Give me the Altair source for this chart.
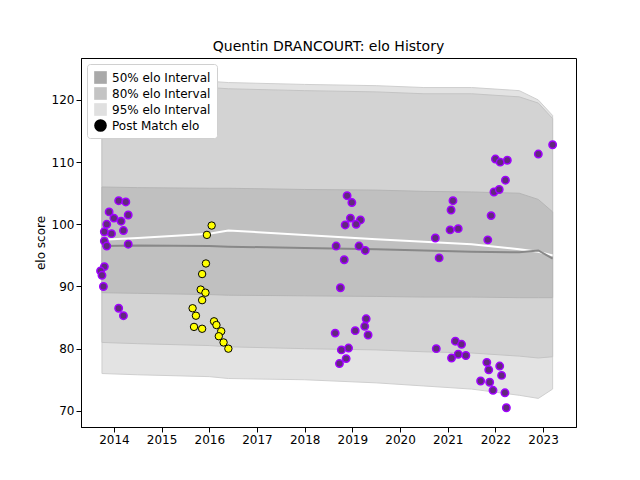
import altair as alt
import pandas as pd

# band edges over time (year, lower, upper)
band_x = [2013.75, 2014.5, 2016.0, 2016.4, 2018.0, 2019.5, 2020.5, 2021.5, 2022.5, 2022.9, 2023.2]
b95_lo = [76.0, 75.8, 75.5, 75.2, 75.0, 74.5, 74.0, 73.5, 72.5, 72.0, 73.5]
b95_hi = [123.5, 123.3, 123.0, 122.8, 122.5, 122.3, 122.0, 122.0, 121.5, 120.0, 117.5]
b80_lo = [81.0, 80.8, 80.5, 80.3, 80.0, 79.8, 79.5, 79.3, 78.8, 78.5, 78.7]
b80_hi = [122.5, 122.3, 122.0, 121.8, 121.5, 121.3, 121.0, 121.0, 120.5, 119.5, 117.0]
b50_lo = [89.0, 88.9, 88.7, 88.6, 88.5, 88.4, 88.3, 88.3, 88.2, 88.2, 88.2]
b50_hi = [106.0, 105.9, 105.8, 105.8, 105.6, 105.5, 105.3, 105.2, 105.0, 104.0, 102.0]
mean_line = [97.5, 97.8, 98.5, 99.0, 98.3, 97.6, 97.2, 96.8, 96.0, 95.6, 95.0]
median_line = [96.5, 96.6, 96.5, 96.4, 96.2, 96.0, 95.8, 95.6, 95.5, 95.8, 94.5]

yellow_x = [2016.05, 2015.95, 2015.93, 2015.85, 2015.82, 2015.92, 2015.85, 2015.65, 2015.72,
            2016.1, 2015.68, 2015.85, 2016.15, 2016.25, 2016.2, 2016.3, 2016.4]
yellow_y = [99.8, 98.3, 93.7, 92.0, 89.5, 89.0, 87.8, 86.5, 85.3,
            84.4, 83.5, 83.2, 83.8, 82.8, 82.0, 81.0, 80.0]

purple_x = [2014.1, 2014.25, 2013.9, 2014.3, 2014.0, 2014.15, 2013.85, 2014.2, 2013.8, 2013.95,
            2013.8, 2014.3, 2013.85, 2013.8, 2013.72, 2013.75, 2013.78, 2014.1, 2014.2,
            2018.89, 2018.99, 2018.96, 2019.17, 2018.85, 2019.08, 2018.66, 2019.14, 2019.27, 2018.83,
            2018.75, 2019.29, 2019.26, 2019.33, 2019.06, 2018.64, 2018.92, 2018.77, 2018.87, 2018.73,
            2021.11, 2021.07, 2021.05, 2021.22, 2020.74, 2020.82, 2020.76, 2021.16, 2021.29, 2021.22,
            2021.08, 2021.38,
            2022.21, 2021.97, 2022.08, 2021.91, 2021.84, 2021.82, 2021.86, 2022.09, 2022.13, 2021.69,
            2021.88, 2021.95, 2022.2, 2022.23, 2022.0, 2022.1, 2022.25, 2022.9, 2023.2]
purple_y = [103.8, 103.6, 102.0, 101.5, 101.0, 100.5, 100.0, 99.0, 98.8, 98.5,
            97.3, 96.8, 96.5, 93.2, 92.5, 91.8, 90.0, 86.5, 85.3,
            104.6, 103.5, 101.0, 100.7, 99.9, 100.0, 96.5, 96.5, 95.8, 94.3,
            89.8, 84.8, 83.6, 82.2, 82.9, 82.5, 80.1, 79.8, 78.4, 77.6,
            103.8, 102.3, 99.1, 99.3, 97.8, 94.6, 80.0, 81.2, 80.7, 79.1,
            78.5, 78.9,
            107.1, 105.2, 105.6, 101.4, 97.5, 77.8, 76.6, 77.2, 75.7, 74.8,
            74.6, 73.3, 72.9, 70.5, 110.5, 110.0, 110.3, 111.3, 112.8]

legend_labels = ["50% elo Interval", "80% elo Interval", "95% elo Interval", "Post Match elo"]

bands = pd.DataFrame({"x": band_x, "lo95": b95_lo, "hi95": b95_hi, "lo80": b80_lo, "hi80": b80_hi,
                      "lo50": b50_lo, "hi50": b50_hi, "mean": mean_line, "median": median_line})
yellow = pd.DataFrame({"x": yellow_x, "y": yellow_y})
purple = pd.DataFrame({"x": purple_x, "y": purple_y})
leg = pd.DataFrame({"x": [2014.0] * 4, "y": [100.0] * 4, "label": legend_labels})

xs = alt.Scale(domain=[2013.31, 2023.69], nice=False, zero=False)
ys = alt.Scale(domain=[67.4, 126.75], nice=False, zero=False)
xax = alt.Axis(values=list(range(2014, 2024)), format="d", grid=False, title=None)
yax = alt.Axis(values=[70, 80, 90, 100, 110, 120], grid=False, title="elo score")

base = alt.Chart(bands)
a95 = base.mark_area(color="#e3e3e3", stroke="#cfcfcf", strokeWidth=1).encode(
    x=alt.X("x:Q", scale=xs, axis=xax), y=alt.Y("lo95:Q", scale=ys, axis=yax), y2="hi95:Q")
a80 = base.mark_area(color="#d3d3d3", stroke="#c4c4c4", strokeWidth=1).encode(
    x="x:Q", y="lo80:Q", y2="hi80:Q")
a50 = base.mark_area(color="#c0c0c0", stroke="#b5b5b5", strokeWidth=1).encode(
    x="x:Q", y="lo50:Q", y2="hi50:Q")
l_mean = base.mark_line(color="white", strokeWidth=2).encode(x="x:Q", y="mean:Q")
l_med = base.mark_line(color="#888888", strokeWidth=2).encode(x="x:Q", y="median:Q")

pts_y = alt.Chart(yellow).mark_circle(size=55, color="#ffff00", stroke="black", strokeWidth=1,
                                      opacity=1).encode(x="x:Q", y="y:Q")
pts_p = alt.Chart(purple).mark_circle(size=55, color="#62297d", stroke="#a000ff", strokeWidth=1.5,
                                      opacity=1).encode(x="x:Q", y="y:Q")

legend = alt.Chart(leg).mark_point(size=0, filled=True, opacity=0).encode(
    x="x:Q", y="y:Q",
    color=alt.Color("label:N", sort=legend_labels,
                    scale=alt.Scale(domain=legend_labels,
                                    range=["#a9a9a9", "#c4c4c4", "#e0e0e0", "black"]),
                    legend=alt.Legend(title=None, orient="top-left", symbolOpacity=1, symbolSize=160,
                                      labelFontSize=12, fillColor="white", strokeColor="#d0d0d0",
                                      padding=6, offset=6, cornerRadius=3,
                                      labelFont="DejaVu Sans")),
    shape=alt.Shape("label:N", sort=legend_labels,
                    scale=alt.Scale(domain=legend_labels,
                                    range=["square", "square", "square", "circle"]),
                    legend=None),
)

chart = alt.layer(a95, a80, a50, l_mean, l_med, pts_y, pts_p, legend).properties(
    width=495, height=369,
    title=alt.TitleParams("Quentin DRANCOURT: elo History", fontSize=14, fontWeight="normal",
                          font="DejaVu Sans"),
    autosize=alt.AutoSizeParams(type="none"),
    padding={"left": 73, "top": 50, "right": 50, "bottom": 40},
).configure_axis(
    labelFont="DejaVu Sans", titleFont="DejaVu Sans", labelFontSize=12, titleFontSize=12,
    titleFontWeight="normal", labelColor="black", titleColor="black",
    domainColor="black", tickColor="black",
).configure_view(stroke="black", strokeWidth=1)

chart.save("out.html", embed_options={"renderer": "svg", "actions": False})
